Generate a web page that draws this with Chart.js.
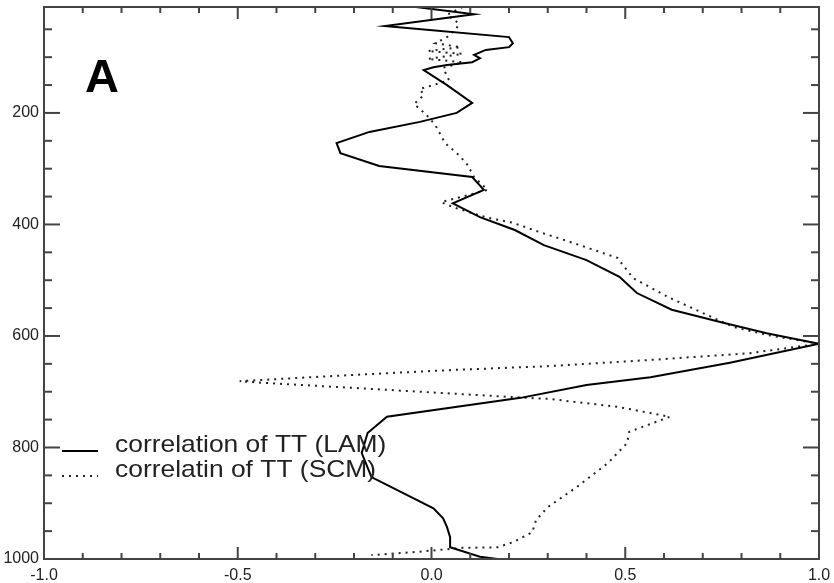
<!DOCTYPE html>
<html>
<head>
<meta charset="utf-8">
<script src="https://cdn.jsdelivr.net/npm/chart.js@4/dist/chart.umd.min.js"></script>
<style>
  html, body { margin: 0; padding: 0; background: #fff; }
  #wrap { width: 834px; height: 583px; }
</style>
</head>
<body>
<div id="wrap"><canvas id="c" width="834" height="583"></canvas></div>
<script>
// Vertical profile of temperature correlation (pressure in hPa on the vertical axis)
const seriesNames = ['correlation of TT (LAM)', 'correlatin of TT (SCM)'];
const panelLetter = 'A';

const pressureLAM = [10, 23, 44, 64, 75, 82, 87, 96, 102, 109, 114, 118, 123, 150, 182, 200,
  216, 234, 254, 272, 295, 315, 338, 362, 387, 410, 437, 464, 494, 523, 553, 575, 595, 614,
  648, 674, 688, 711, 745, 774, 810, 853, 909, 927, 943, 961, 979, 996, 1000];
const corrLAM = [-0.04, 0.11, -0.12, 0.20, 0.21, 0.20, 0.14, 0.11, 0.125, 0.105, 0.04, 0.005, -0.02, 0.04, 0.105, 0.065,
  -0.03, -0.16, -0.245, -0.235, -0.135, 0.105, 0.135, 0.055, 0.125, 0.215, 0.29, 0.40, 0.485, 0.53, 0.62, 0.745, 0.865, 1.0,
  0.77, 0.565, 0.40, 0.23, -0.115, -0.165, -0.18, -0.155, 0.005, 0.03, 0.04, 0.048, 0.048, 0.125, 0.17];

const pressureSCM = [10, 24, 39, 48, 64, 75, 82, 89, 94, 103, 109, 119, 141, 150, 157, 168, 184, 202,
  222, 254, 272, 290, 315, 338, 360, 370, 388, 397, 414, 433, 460, 496, 530, 562, 584, 598, 614,
  631, 643, 654, 661, 670, 681, 684, 693, 709, 713, 727, 745, 772, 792, 828, 871, 907, 930, 952,
  970, 979, 980, 988, 993];
const corrSCM = [0.08, 0.04, 0.07, 0.065, 0.04, 0.01, 0.075, -0.01, 0.08, -0.01, 0.08, 0.03, 0.045, 0.005, -0.03, -0.02, -0.045, -0.015,
  0.01, 0.035, 0.065, 0.09, 0.11, 0.145, 0.025, 0.06, 0.145, 0.21, 0.28, 0.365, 0.48, 0.52, 0.61, 0.71, 0.78, 0.865, 1.0,
  0.82, 0.565, 0.305, 0.055, -0.205, -0.495, -0.435, -0.205, 0.195, 0.305, 0.48, 0.615, 0.51, 0.505, 0.455, 0.375, 0.30, 0.27, 0.26,
  0.21, 0.17, 0.08, -0.05, -0.155];

const xTickLabels = [-1.0, -0.5, 0.0, 0.5, 1.0];
const yTickLabels = [200, 400, 600, 800, 1000];

const toPoints = (p, r) => p.map((v, i) => ({ x: r[i], y: v }));

// Box frame with inward tick marks on all four sides
const framePlugin = {
  id: 'frame',
  afterDatasetsDraw(chart) {
    const { ctx, chartArea: a, scales: { x, y } } = chart;
    ctx.save();
    ctx.strokeStyle = '#444';
    ctx.lineWidth = 2;
    const seg = (x1, y1, x2, y2) => { ctx.beginPath(); ctx.moveTo(x1, y1); ctx.lineTo(x2, y2); ctx.stroke(); };
    ctx.strokeRect(a.left, a.top, a.right - a.left, a.bottom - a.top);
    for (let i = -10; i <= 10; i++) {
      const px = x.getPixelForValue(i / 10);
      const len = (i % 5 === 0) ? 12 : 6;
      seg(px, a.bottom, px, a.bottom - len);
      seg(px, a.top, px, a.top + len);
    }
    for (let v = 50; v < 1000; v += 50) {
      const py = y.getPixelForValue(v);
      const len = (v % 200 === 0) ? 16 : 8;
      seg(a.left, py, a.left + len, py);
      seg(a.right, py, a.right - len, py);
    }
    ctx.restore();
  }
};

// Legend lines and panel letter
const annotatePlugin = {
  id: 'annotate',
  afterDraw(chart) {
    const { ctx } = chart;
    ctx.save();
    ctx.fillStyle = '#000';
    ctx.font = 'bold 47px "Liberation Sans", Arial, sans-serif';
    ctx.textBaseline = 'alphabetic';
    ctx.fillText(panelLetter, 85, 92);

    const rows = [451, 476];
    chart.data.datasets.forEach((ds, i) => {
      const yy = rows[i];
      ctx.strokeStyle = ds.borderColor;
      ctx.lineWidth = ds.borderWidth;
      ctx.setLineDash(ds.borderDash || []);
      ctx.beginPath();
      ctx.moveTo(62, yy);
      ctx.lineTo(98, yy);
      ctx.stroke();
      ctx.setLineDash([]);
      ctx.save();
      ctx.translate(115, yy + 1);
      ctx.scale(1.1, 1);
      ctx.fillStyle = '#222';
      ctx.font = '24px "Liberation Sans", Arial, sans-serif';
      ctx.fillText(ds.label, 0, 0);
      ctx.restore();
    });
    ctx.restore();
  }
};

new Chart(document.getElementById('c'), {
  type: 'scatter',
  data: {
    datasets: [
      {
        label: seriesNames[0],
        data: toPoints(pressureLAM, corrLAM),
        showLine: true,
        borderColor: '#000',
        borderWidth: 2,
        pointRadius: 0,
        tension: 0
      },
      {
        label: seriesNames[1],
        data: toPoints(pressureSCM, corrSCM),
        showLine: true,
        borderColor: '#222',
        borderWidth: 2,
        borderDash: [2, 5],
        pointRadius: 0,
        tension: 0
      }
    ]
  },
  options: {
    responsive: false,
    animation: false,
    devicePixelRatio: 1,
    layout: { padding: { top: 7, right: 15, left: 0, bottom: 0 } },
    plugins: { legend: { display: false }, tooltip: { enabled: false } },
    scales: {
      x: {
        type: 'linear',
        min: -1,
        max: 1,
        grid: { display: false, drawTicks: false },
        border: { display: false },
        afterBuildTicks: s => { s.ticks = xTickLabels.map(v => ({ value: v })); },
        afterFit: s => { s.height = 24; s.paddingLeft = 0; s.paddingRight = 0; },
        ticks: {
          autoSkip: false,
          maxRotation: 0,
          padding: 7,
          color: '#222',
          font: { family: '"Liberation Sans", Arial, sans-serif', size: 16 },
          callback: v => Number(v).toFixed(1)
        }
      },
      y: {
        type: 'linear',
        reverse: true,
        min: 10,
        max: 1000,
        grid: { display: false, drawTicks: false },
        border: { display: false },
        afterBuildTicks: s => { s.ticks = yTickLabels.map(v => ({ value: v })); },
        afterFit: s => { s.width = 44; s.paddingTop = 0; s.paddingBottom = 0; },
        ticks: {
          autoSkip: false,
          padding: 5,
          color: '#222',
          font: { family: '"Liberation Sans", Arial, sans-serif', size: 16 },
          callback: v => String(v)
        }
      }
    }
  },
  plugins: [framePlugin, annotatePlugin]
});
</script>
</body>
</html>
